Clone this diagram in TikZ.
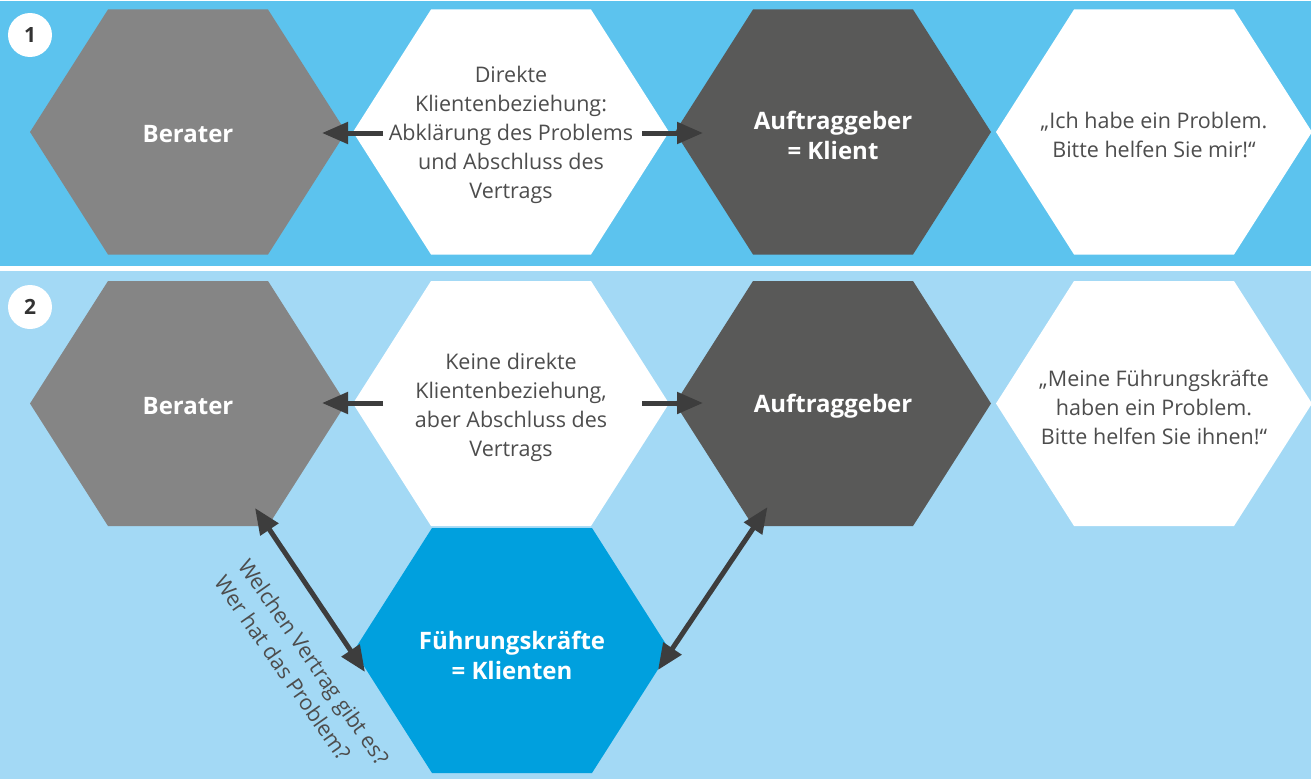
\documentclass[tikz,border=0pt]{standalone}
\usepackage{fontspec}
\setmainfont{Open Sans}
\usetikzlibrary{arrows.meta,calc}
\definecolor{topband}{HTML}{5CC3EE}
\definecolor{botband}{HTML}{A3D9F5}
\definecolor{hgray}{HTML}{858585}
\definecolor{hdark}{HTML}{595958}
\definecolor{hblue}{HTML}{00A0DE}
\definecolor{arrc}{HTML}{3D3D3D}
\definecolor{txtc}{HTML}{4D4D4D}
\newcommand\myhex[3]{\fill[#3] ({#1-158},#2) -- ({#1-80},{#2-122.5}) -- ({#1+80},{#2-122.5}) -- ({#1+158},#2) -- ({#1+80},{#2+122.5}) -- ({#1-80},{#2+122.5}) -- cycle;}
\tikzset{
  boldtxt/.style={text=white, font=\fontsize{24bp}{30bp}\selectfont\bfseries, align=center, inner sep=0pt},
  lighttxt/.style={text=txtc, font=\fontsize{21.5bp}{29bp}\selectfont, align=center, inner sep=0pt},
  numcirc/.style={circle, fill=white, minimum size=44bp, inner sep=0pt, text=black!80, font=\fontsize{21bp}{24bp}\selectfont\bfseries},
  arr/.style={draw=arrc, line width=5bp, -{Triangle[length=26bp,width=21bp]}},
  darr/.style={draw=arrc, line width=5bp, {Triangle[length=26bp,width=21bp]}-{Triangle[length=26bp,width=21bp]}}
}
\begin{document}
\begin{tikzpicture}[x=1bp,y=-1bp]
\useasboundingbox (0,0) rectangle (1311,779);
\fill[white] (0,0) rectangle (1311,779);
\fill[topband] (0,1.5) rectangle (1311,265.5);
\fill[botband] (0,270.5) rectangle (1311,779);
% hexagons row 1
\myhex{188}{132}{hgray}
\myhex{511}{132}{white}
\myhex{833}{132}{hdark}
\myhex{1154}{132}{white}
% hexagons row 2
\myhex{188}{403.5}{hgray}
\myhex{511}{403.5}{white}
\myhex{833}{403.5}{hdark}
\myhex{1154}{403.5}{white}
\myhex{512}{650.5}{hblue}
% numbers
\node[numcirc] (n1) at (30,35) {1};
\node[numcirc] (n2) at (30,307) {2};
% texts row 1
\node[boldtxt] (b1) at (188,134) {Berater};
\node[lighttxt] (w1) at (511,135) {Direkte\\Klientenbeziehung:\\Abklärung des Problems\\und Abschluss des\\Vertrags};
\node[boldtxt] (a1) at (833,135) {Auftraggeber\\= Klient};
\node[lighttxt] (q1) at (1154,135) {„Ich habe ein Problem.\\Bitte helfen Sie mir!“};
% texts row 2
\node[boldtxt] (b2) at (188,406) {Berater};
\node[lighttxt] (w2) at (511,407) {Keine direkte\\Klientenbeziehung,\\aber Abschluss des\\Vertrags};
\node[boldtxt] (a2) at (833,406) {Auftraggeber};
\node[lighttxt] (q2) at (1154,407) {„Meine Führungskräfte\\haben ein Problem.\\Bitte helfen Sie ihnen!“};
\node[boldtxt] (f2) at (512,655) {Führungskräfte\\= Klienten};
% rotated text
\node[lighttxt, align=left, rotate=-55] (rq) at (302,670) {Welchen Vertrag gibt es?\\Wer hat das Problem?};
% arrows row 1
\draw[arr] ($(w1)+(-128,-2)$) -- ($(b1)+(134,-1)$);
\draw[arr] ($(w1)+(131,-2)$) -- ($(a1)+(-130,-2)$);
% arrows row 2
\draw[arr] ($(w2)+(-128,-4)$) -- ($(b2)+(134,-3)$);
\draw[arr] ($(w2)+(131,-4)$) -- ($(a2)+(-130,-3)$);
% diagonal arrows
\draw[darr] ($(b2)+(67,102)$) -- ($(f2)+(-147,17)$);
\draw[darr] ($(a2)+(-65.5,101)$) -- ($(f2)+(146,15)$);
\end{tikzpicture}
\end{document}
